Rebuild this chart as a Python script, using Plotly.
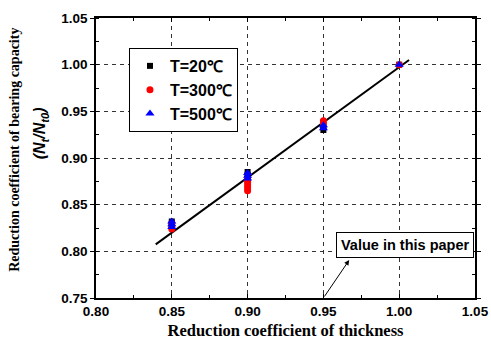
import plotly.graph_objects as go

# data
x_20 = [0.85, 0.85, 0.85, 0.90, 0.90, 0.90, 0.95, 0.95, 1.00]
y_20 = [0.832, 0.830, 0.828, 0.885, 0.882, 0.880, 0.930, 0.933, 1.000]
x_300 = [0.85, 0.85, 0.85, 0.90, 0.90, 0.90, 0.90, 0.90, 0.95, 0.95, 1.00]
y_300 = [0.824, 0.827, 0.830, 0.865, 0.868, 0.871, 0.874, 0.877, 0.940, 0.937, 1.000]
x_500 = [0.85, 0.85, 0.85, 0.90, 0.90, 0.90, 0.95, 0.95, 1.00]
y_500 = [0.826, 0.829, 0.832, 0.884, 0.881, 0.878, 0.935, 0.932, 1.000]
fit_x = [0.8394, 1.0065]
fit_y = [0.8075, 1.0050]
tick_vals = [0.75, 0.80, 0.85, 0.90, 0.95, 1.00, 1.05]
xtick_vals = [0.80, 0.85, 0.90, 0.95, 1.00, 1.05]

fig = go.Figure()
fig.add_trace(go.Scatter(x=fit_x, y=fit_y, mode="lines",
                         line=dict(color="black", width=2), showlegend=False))
fig.add_trace(go.Scatter(x=x_20, y=y_20, mode="markers", name="<b>T=20℃</b>",
                         marker=dict(symbol="square", size=6, color="black")))
fig.add_trace(go.Scatter(x=x_300, y=y_300, mode="markers", name="<b>T=300℃</b>",
                         marker=dict(symbol="circle", size=7, color="red")))
fig.add_trace(go.Scatter(x=x_500, y=y_500, mode="markers", name="<b>T=500℃</b>",
                         marker=dict(symbol="triangle-up", size=8, color="blue")))

tickfont = dict(family="Liberation Sans", size=13.5, color="black")
grid = dict(showgrid=True, gridcolor="#333", griddash="4px,4px", gridwidth=1)

fig.update_xaxes(range=[0.80, 1.05], tickvals=xtick_vals, ticktext=[f"<b>{v:.2f}</b>" for v in xtick_vals],
                 showline=True, linecolor="black", linewidth=1.5, mirror="ticks",
                 ticks="inside", ticklen=4, tickcolor="black", automargin=False,
                 minor=dict(dtick=0.025, ticks="inside", ticklen=3, tickcolor="black", showgrid=False),
                 tickfont=tickfont, zeroline=False,
                 title=dict(text="<b>Reduction coefficient of thickness</b>",
                            font=dict(family="Liberation Serif", size=16.5, color="black"), standoff=6),
                 **grid)
fig.update_yaxes(range=[0.75, 1.05], tickvals=tick_vals, ticktext=[f"<b>{v:.2f}</b>" for v in tick_vals],
                 showline=True, linecolor="black", linewidth=1.5, mirror="ticks",
                 ticks="outside", ticklen=4, tickcolor="black", automargin=False,
                 minor=dict(dtick=0.025, ticks="inside", ticklen=3, tickcolor="black", showgrid=False),
                 tickfont=tickfont, zeroline=False, **grid)

fig.add_annotation(xref="paper", yref="paper", x=-0.214, y=0.529, xanchor="center", yanchor="middle",
                   textangle=-90, showarrow=False,
                   text="<b>Reduction coefficient of bearing capacity</b>",
                   font=dict(family="Liberation Serif", size=14, color="black"))
fig.add_annotation(xref="paper", yref="paper", x=-0.147, y=0.589, xanchor="center", yanchor="middle",
                   textangle=-90, showarrow=False,
                   text="<b><i>(N<sub>t</sub>/N<sub>t0</sub>)</i></b>",
                   font=dict(family="Liberation Sans", size=16, color="black"))

fig.add_annotation(x=1.0035, y=0.8067, xref="x", yref="y", showarrow=False,
                   text="<b>Value in this paper</b>", bordercolor="black", borderwidth=1,
                   borderpad=4, bgcolor="white",
                   font=dict(family="Liberation Sans", size=14.5, color="black"))
fig.add_annotation(x=0.967, y=0.7906, ax=0.95, ay=0.75, xref="x", yref="y",
                   axref="x", ayref="y", text="", showarrow=True,
                   arrowhead=2, arrowsize=1, arrowwidth=1, arrowcolor="black")

fig.update_layout(
    width=491, height=343,
    margin=dict(l=96, r=16, t=18, b=45),
    plot_bgcolor="white", paper_bgcolor="white",
    legend=dict(x=0.087, y=0.893, xanchor="left", yanchor="top",
                bordercolor="black", borderwidth=1, bgcolor="white",
                font=dict(family="Liberation Sans", size=16, color="black"),
                tracegroupgap=0),
)

fig.write_html("out.html", config={"displayModeBar": False},
               post_script="document.body.style.margin='0';document.body.style.overflow='hidden';")
